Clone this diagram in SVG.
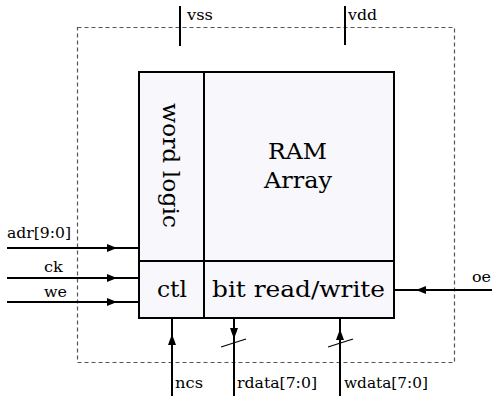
<svg xmlns="http://www.w3.org/2000/svg" width="501" height="406" viewBox="0 0 501 406">
<style>
.w{stroke:#000;stroke-width:2;fill:none}
.box{stroke:#000;stroke-width:2;fill:#f7f7fc}
.big{font-family:"DejaVu Serif",serif;font-size:23px;fill:#000}
.lbl{font-family:"DejaVu Serif",serif;font-size:15px;fill:#000}
.ah{fill:#000}
</style>
<rect x="77.5" y="27.5" width="377" height="335" fill="none" stroke="#555" stroke-width="1.2" stroke-dasharray="4,3"/>
<g id="ram">
<rect class="box" x="139" y="72" width="255" height="246"/>
<text class="big" x="268" y="159" textLength="59" lengthAdjust="spacingAndGlyphs">RAM</text>
<text class="big" x="264" y="188" textLength="68" lengthAdjust="spacingAndGlyphs">Array</text>
</g>
<g id="wordlogic">
<rect class="box" x="139" y="72" width="65" height="189"/>
<text class="big" transform="translate(163,103) rotate(90)" textLength="125" lengthAdjust="spacingAndGlyphs">word logic</text>
</g>
<g id="ctl">
<rect class="box" x="139" y="261" width="65" height="57"/>
<text class="big" x="157" y="297" textLength="30" lengthAdjust="spacingAndGlyphs">ctl</text>
</g>
<g id="bitrw">
<rect class="box" x="204" y="261" width="190" height="57"/>
<text class="big" x="212" y="297" textLength="173" lengthAdjust="spacingAndGlyphs">bit read/write</text>
</g>
<g id="connectors">
<line class="w" x1="180" y1="6" x2="180" y2="46"/>
<text class="lbl" x="187" y="20" textLength="26" lengthAdjust="spacingAndGlyphs">vss</text>
<line class="w" x1="345" y1="6" x2="345" y2="45"/>
<text class="lbl" x="348" y="20" textLength="29" lengthAdjust="spacingAndGlyphs">vdd</text>
<line class="w" x1="7" y1="248" x2="139" y2="248"/>
<polygon class="ah" points="117,248 107,244 107,252"/>
<text class="lbl" x="7" y="238" textLength="64" lengthAdjust="spacingAndGlyphs">adr[9:0]</text>
<line class="w" x1="7" y1="278" x2="139" y2="278"/>
<polygon class="ah" points="117,278 107,274 107,282"/>
<text class="lbl" x="44" y="272" textLength="19" lengthAdjust="spacingAndGlyphs">ck</text>
<line class="w" x1="7" y1="302" x2="139" y2="302"/>
<polygon class="ah" points="117,302 107,298 107,306"/>
<text class="lbl" x="44" y="297" textLength="23" lengthAdjust="spacingAndGlyphs">we</text>
<line class="w" x1="492" y1="290" x2="394" y2="290"/>
<polygon class="ah" points="416,290 426,286 426,294"/>
<text class="lbl" x="472" y="282" textLength="19" lengthAdjust="spacingAndGlyphs">oe</text>
<line class="w" x1="172" y1="318" x2="172" y2="396"/>
<polygon class="ah" points="172,334 168,345 176,345"/>
<text class="lbl" x="175" y="388" textLength="28" lengthAdjust="spacingAndGlyphs">ncs</text>
<line class="w" x1="234" y1="318" x2="234" y2="396"/>
<polygon class="ah" points="234,339 230,328 238,328"/>
<line stroke="#000" stroke-width="1.2" x1="221" y1="347" x2="246" y2="339"/>
<text class="lbl" x="237" y="388" textLength="80" lengthAdjust="spacingAndGlyphs">rdata[7:0]</text>
<line class="w" x1="340" y1="318" x2="340" y2="396"/>
<polygon class="ah" points="340,329 336,340 344,340"/>
<line stroke="#000" stroke-width="1.2" x1="328" y1="347" x2="353" y2="339"/>
<text class="lbl" x="344" y="388" textLength="84" lengthAdjust="spacingAndGlyphs">wdata[7:0]</text>
</g>
</svg>
